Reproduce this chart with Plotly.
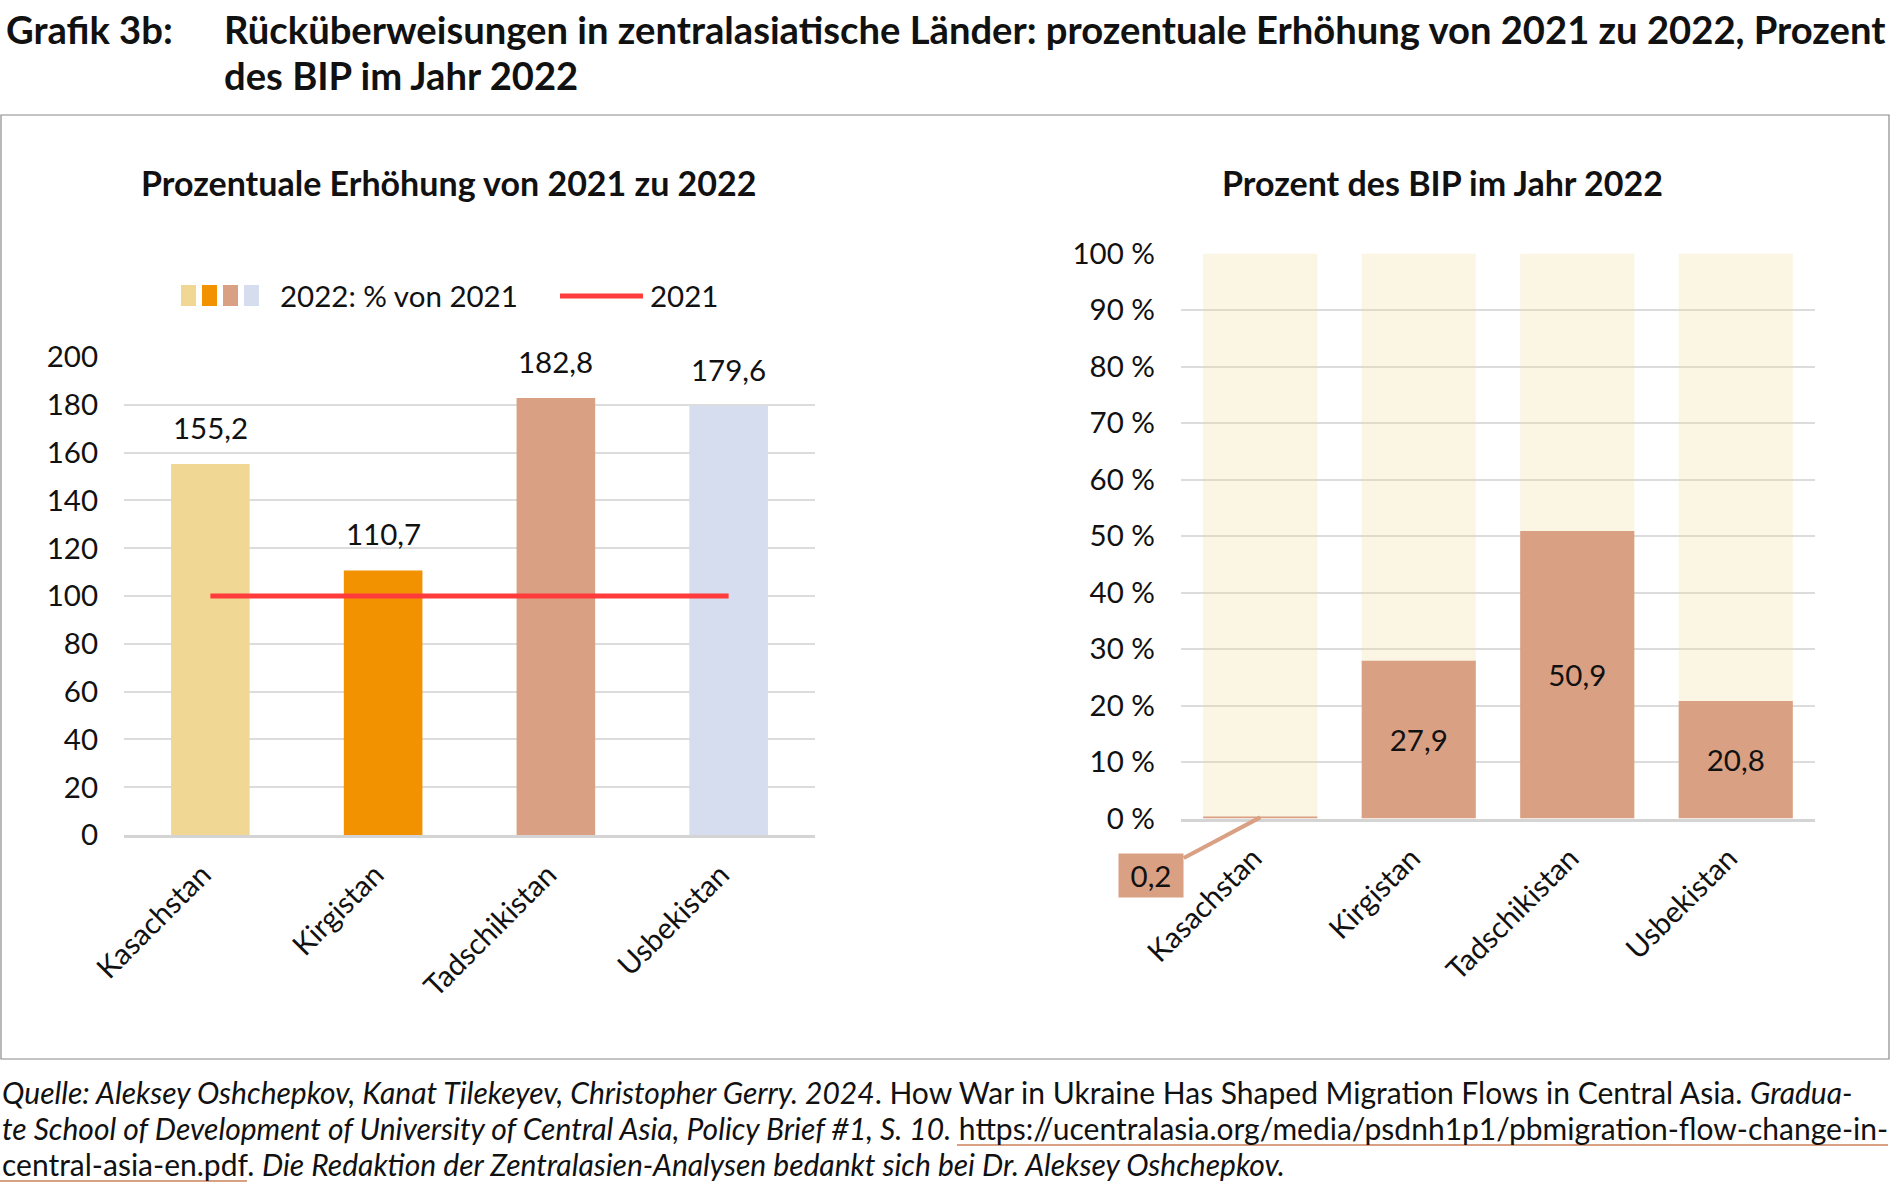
import plotly.graph_objects as go

# ---------------- data ----------------
countries = ["Kasachstan", "Kirgistan", "Tadschikistan", "Usbekistan"]
increase_pct = [155.2, 110.7, 182.8, 179.6]          # 2022 in % of 2021
increase_labels = ["155,2", "110,7", "182,8", "179,6"]
base_2021 = [100, 100, 100, 100]                      # 2021 reference line
gdp_share = [0.2, 27.9, 50.9, 20.8]                   # % of GDP 2022
gdp_labels = ["0,2", "27,9", "50,9", "20,8"]
gdp_full = [100, 100, 100, 100]                       # background bars
bar_colors = ["#F0D894", "#F39200", "#D9A083", "#D5DDEE"]
left_ticks = list(range(0, 201, 20))
right_ticks = list(range(0, 101, 10))
right_ticktext = [f"{v} %" for v in right_ticks]

W, H = 1893, 1192
FONT = "Lato"
TXT = "#111111"
GRID = "#DCDCDC"
SALMON = "#D9A083"
RED = "#FF3B3B"
FS = 29.5


def px(x):
    return x / W


def py(y):
    return 1 - y / H


fig = go.Figure()

# left chart
fig.add_trace(go.Bar(
    x=countries, y=increase_pct, marker=dict(color=bar_colors, line=dict(width=0)),
    width=0.455, xaxis="x", yaxis="y", showlegend=False, hoverinfo="skip"))
fig.add_trace(go.Scatter(
    x=countries, y=base_2021, mode="lines", line=dict(color=RED, width=5),
    xaxis="x", yaxis="y", showlegend=False, hoverinfo="skip"))

# right chart
fig.add_trace(go.Bar(
    x=countries, y=gdp_full, width=0.72, xaxis="x2", yaxis="y2",
    marker=dict(color="rgba(240,216,148,0.25)", line=dict(width=0)),
    showlegend=False, hoverinfo="skip"))
fig.add_trace(go.Bar(
    x=countries, y=gdp_share, width=0.72, xaxis="x2", yaxis="y2",
    marker=dict(color=SALMON, line=dict(width=0)),
    text=[""] + gdp_labels[1:], textposition="inside", insidetextanchor="middle",
    textangle=0, textfont=dict(family=FONT, size=FS, color=TXT),
    showlegend=False, hoverinfo="skip"))

annotations = []
# value labels above the left bars
for c, v, lab in zip(countries, increase_pct, increase_labels):
    annotations.append(dict(x=c, y=v, xref="x", yref="y", text=lab, showarrow=False,
                            yanchor="bottom", yshift=17,
                            font=dict(family=FONT, size=FS, color=TXT)))
# callout for Kazakhstan share
annotations.append(dict(x=countries[0], y=gdp_share[0], xref="x2", yref="y2",
                        text="\u00a0" + gdp_labels[0] + "\u00a0", showarrow=True, arrowhead=0,
                        arrowwidth=4, arrowcolor=SALMON, ax=-109, ay=58, bgcolor=SALMON,
                        borderpad=4, font=dict(family=FONT, size=FS, color=TXT)))

# titles
annotations += [
    dict(x=px(4), y=py(29), xref="paper", yref="paper", xanchor="left", yanchor="middle",
         text="<b>Grafik 3b:</b>", showarrow=False, font=dict(family=FONT, size=38.2, color=TXT)),
    dict(x=px(222), y=py(29), xref="paper", yref="paper", xanchor="left", yanchor="middle",
         text="<b>Rücküberweisungen in zentralasiatische Länder: prozentuale Erhöhung von 2021 zu 2022, Prozent</b>",
         showarrow=False, font=dict(family=FONT, size=38.2, color=TXT)),
    dict(x=px(222), y=py(75), xref="paper", yref="paper", xanchor="left", yanchor="middle",
         text="<b>des BIP im Jahr 2022</b>", showarrow=False,
         font=dict(family=FONT, size=38.2, color=TXT)),
    dict(x=px(449), y=py(183), xref="paper", yref="paper", xanchor="center", yanchor="middle",
         text="<b>Prozentuale Erhöhung von 2021 zu 2022</b>", showarrow=False,
         font=dict(family=FONT, size=34, color=TXT)),
    dict(x=px(1442), y=py(183), xref="paper", yref="paper", xanchor="center", yanchor="middle",
         text="<b>Prozent des BIP im Jahr 2022</b>", showarrow=False,
         font=dict(family=FONT, size=34, color=TXT)),
    # legend texts
    dict(x=px(278), y=py(296), xref="paper", yref="paper", xanchor="left", yanchor="middle",
         text="2022: % von 2021", showarrow=False, font=dict(family=FONT, size=FS, color=TXT)),
    dict(x=px(648), y=py(296), xref="paper", yref="paper", xanchor="left", yanchor="middle",
         text="2021", showarrow=False, font=dict(family=FONT, size=FS, color=TXT)),
]

# footer
footer_lines = [
    "<i>Quelle: Aleksey Oshchepkov, Kanat Tilekeyev, Christopher Gerry. 2024</i>. How War in Ukraine Has Shaped Migration Flows in Central Asia. <i>Gradua-</i>",
    "<i>te School of Development of University of Central Asia, Policy Brief #1, S. 10.</i> https://ucentralasia.org/media/psdnh1p1/pbmigration-flow-change-in-",
    "central-asia-en.pdf. <i>Die Redaktion der Zentralasien-Analysen bedankt sich bei Dr. Aleksey Oshchepkov.</i>",
]
for i, line in enumerate(footer_lines):
    annotations.append(dict(x=0, y=py(1091.5 + 36 * i), xref="paper", yref="paper",
                            xanchor="left", yanchor="middle", text=line, showarrow=False,
                            font=dict(family=FONT, size=30, color=TXT)))

shapes = [
    dict(type="rect", xref="paper", yref="paper", x0=px(1), x1=px(1889), y0=py(1059), y1=py(115),
         line=dict(color="#8A8A8A", width=1.2), fillcolor="rgba(0,0,0,0)", layer="below"),
    dict(type="line", xref="paper", yref="paper", x0=px(560), x1=px(643), y0=py(296), y1=py(296),
         line=dict(color=RED, width=5)),
    # salmon link underlines in the footer
    dict(type="line", xref="paper", yref="paper", x0=px(957), x1=px(1888), y0=py(1145), y1=py(1145),
         line=dict(color=SALMON, width=2)),
    dict(type="line", xref="paper", yref="paper", x0=px(0), x1=px(247), y0=py(1181), y1=py(1181),
         line=dict(color=SALMON, width=2)),
]
# legend colour swatches
for i, col in enumerate(bar_colors):
    x0 = 181 + i * 21
    shapes.append(dict(type="rect", xref="paper", yref="paper", x0=px(x0), x1=px(x0 + 15),
                       y0=py(306), y1=py(285), line=dict(width=0), fillcolor=col))

axis_font = dict(family=FONT, size=FS, color=TXT)
fig.update_layout(
    width=W, height=H, margin=dict(l=0, r=0, t=0, b=0, pad=0, autoexpand=False),
    paper_bgcolor="white", plot_bgcolor="white",
    barmode="overlay", font=dict(family=FONT, color=TXT),
    annotations=annotations, shapes=shapes, showlegend=False,
    xaxis=dict(domain=[px(124), px(815)], anchor="y", range=[-0.5, 3.5], tickangle=-45,
               tickfont=axis_font, showline=True, linecolor="#D4D4D4", linewidth=2.5,
               showgrid=False, ticks="", automargin=False, ticklabelstandoff=8,
               ticklabelshift=-8),
    yaxis=dict(domain=[py(835), py(357)], anchor="x", range=[0, 200], tickvals=left_ticks,
               tickfont=axis_font, gridcolor=GRID, gridwidth=1.5, zeroline=False,
               ticklabelstandoff=25, ticks="", automargin=False),
    xaxis2=dict(domain=[px(1181), px(1815)], anchor="y2", range=[-0.5, 3.5], tickangle=-45,
                tickfont=axis_font, showline=True, linecolor="#D4D4D4", linewidth=2.5,
                showgrid=False, ticks="", automargin=False, ticklabelstandoff=8,
                ticklabelshift=-7),
    yaxis2=dict(domain=[py(818.5), py(253.5)], anchor="x2", range=[0, 100], tickvals=right_ticks,
                ticktext=right_ticktext, tickmode="array", tickfont=axis_font, gridcolor=GRID,
                gridwidth=1.5, zeroline=False, ticklabelstandoff=25, ticks="", automargin=False),
)

fig.write_html("out.html", config={"displayModeBar": False},
               post_script="document.body.style.margin='0px';")
